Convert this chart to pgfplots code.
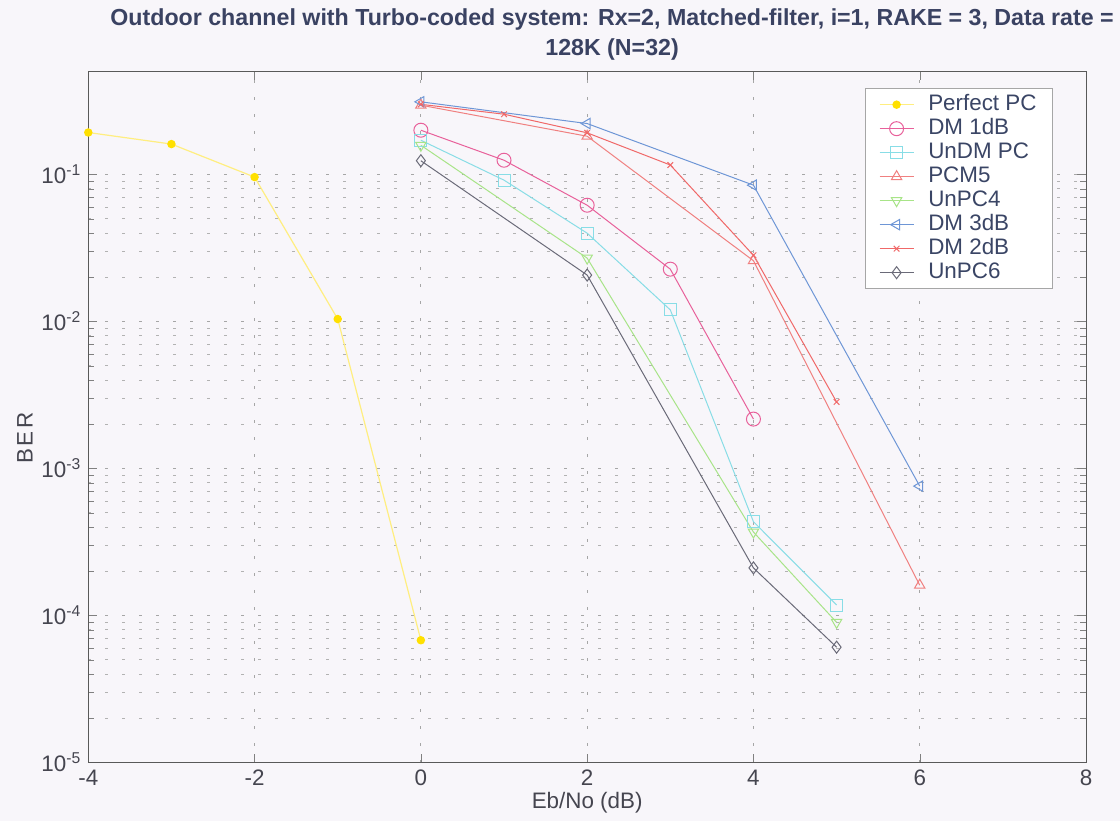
\documentclass[border=0pt]{standalone}
\usepackage{fontspec}
\setmainfont{Liberation Sans}
\usepackage{pgfplots}
\pgfplotsset{compat=1.18}
\definecolor{bgc}{HTML}{F8F6FA}
\definecolor{titlec}{HTML}{3A4262}
\definecolor{labc}{HTML}{45454F}
\definecolor{legc}{HTML}{3A4565}
\definecolor{cyel}{HTML}{FFE000}
\definecolor{cyell}{HTML}{FFEE80}
\definecolor{cmag}{HTML}{E8609A}
\definecolor{ccyan}{HTML}{88DDE6}
\definecolor{cpcm}{HTML}{F08080}
\definecolor{cgrn}{HTML}{A8E488}
\definecolor{cblue}{HTML}{6E96D6}
\definecolor{cred}{HTML}{F06868}
\definecolor{cgray}{HTML}{6A6A78}
\begin{document}
\begin{tikzpicture}
\path[use as bounding box, fill=bgc] (-44.15pt,-29.15pt) rectangle (515.9pt,381.35pt);
\begin{semilogyaxis}[
  scale only axis, width=498.9pt, height=345.5pt,
  xmin=-4, xmax=8, ymin=1e-5, ymax=0.5,
  axis background/.style={fill=bgc},
  xtick={-4,-2,0,2,4,6,8},
  xticklabels={-4,-2,0,2,4,6,8},
  ytick={1e-5,1e-4,1e-3,1e-2,1e-1},
  yticklabels={10\textsuperscript{-5},10\textsuperscript{-4},10\textsuperscript{-3},10\textsuperscript{-2},10\textsuperscript{-1}},
  ticklabel style={font=\fontsize{11.2}{13}\selectfont, text=labc},
  grid=both,
  major grid style={gray!70, dash pattern=on 1.5pt off 7pt, line width=0.45pt},
  minor grid style={gray!60, dash pattern=on 1.5pt off 7pt, line width=0.45pt},
  tick align=inside,
  axis line style={gray!70!black, line width=0.5pt},
  xlabel={Eb/No (dB)},
  ylabel={B\hspace{1.5pt}E\hspace{1.5pt}R},
  label style={font=\fontsize{11.2}{13}\selectfont, text=labc},
  xlabel style={at={(axis description cs:0.5,-0.058)}, anchor=center},
  ylabel style={at={(axis description cs:-0.0634,0.47)}, anchor=center},
  title={Outdoor channel with Turbo-coded system: Rx=2, Matched-filter, i=1, RAKE = 3, Data rate =\\128K (N=32)},
  title style={at={(axis description cs:0.525,1.036)}, anchor=center, align=center, font=\bfseries\fontsize{11.6}{15}\selectfont, text=titlec},
  legend style={at={(axis description cs:0.778,0.976)}, anchor=north west, draw=gray!70, fill=white,
    inner xsep=7pt,
    font=\fontsize{11.2}{12}\selectfont, text=legc,
    nodes={inner sep=1pt, text height=7.8pt, text depth=2.2pt},
    /tikz/every odd column/.append style={column sep=6pt}},
  legend cell align=left,
]
\addplot[cyell, line width=0.6pt, mark=*, mark size=1.8pt, mark options={fill=cyel, draw=cyel}]
  coordinates {(-4,0.193) (-3,0.161) (-2,0.096) (-1,0.0104) (0,6.8e-5)};
\addlegendentry{Perfect PC}
\addplot[cmag, line width=0.5pt, mark=o, mark size=3.5pt]
  coordinates {(0,0.200) (1,0.125) (2,0.0618) (3,0.0227) (4,0.00217)};
\addlegendentry{DM 1dB}
\addplot[ccyan, line width=0.5pt, mark=square, mark size=3pt]
  coordinates {(0,0.171) (1,0.0915) (2,0.0399) (3,0.0120) (4,4.35e-4) (5,1.18e-4)};
\addlegendentry{UnDM PC}
\addplot[cpcm, line width=0.5pt, mark=triangle, mark size=3pt]
  coordinates {(0,0.296) (2,0.182) (4,0.0259) (6,1.61e-4)};
\addlegendentry{PCM5}
\addplot[cgrn, line width=0.5pt, mark=triangle, mark size=3pt, mark options={rotate=180}]
  coordinates {(0,0.158) (2,0.027) (4,3.7e-4) (5,9.0e-5)};
\addlegendentry{UnPC4}
\addplot[cblue, line width=0.5pt, mark=triangle, mark size=3pt, mark options={rotate=90}]
  coordinates {(0,0.312) (2,0.222) (4,0.0846) (6,7.6e-4)};
\addlegendentry{DM 3dB}
\addplot[cred, line width=0.5pt, mark=x, mark size=2pt]
  coordinates {(0,0.300) (1,0.257) (2,0.192) (3,0.116) (4,0.0282) (5,0.00284)};
\addlegendentry{DM 2dB}
\addplot[cgray, line width=0.5pt, mark=diamond, mark size=3pt]
  coordinates {(0,0.124) (2,0.0207) (4,2.11e-4) (5,6.1e-5)};
\addlegendentry{UnPC6}
\end{semilogyaxis}
\end{tikzpicture}
\end{document}
